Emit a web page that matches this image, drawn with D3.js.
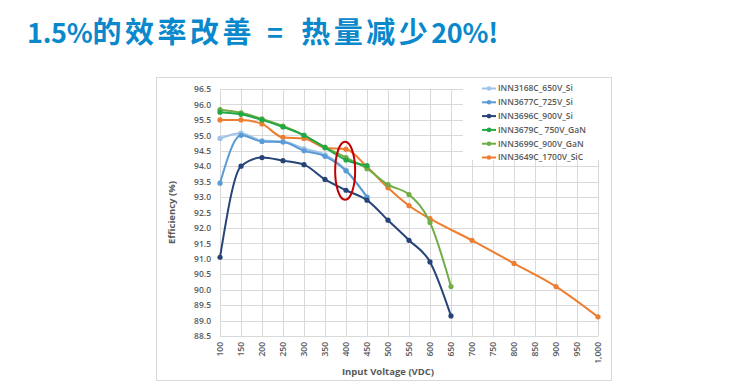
<!DOCTYPE html>
<html>
<head>
<meta charset="utf-8">
<script src="https://cdn.jsdelivr.net/npm/d3@7"></script>
<style>
  body { margin: 0; background: #fff; }
  svg { display: block; }
</style>
</head>
<body>
<svg id="chart" width="740" height="386"></svg>
<script>
// data
var voltages = [100,150,200,250,300,350,400,450,500,550,600,650,700,750,800,850,900,950,1000];
var names = ["INN3168C_650V_Si","INN3677C_725V_Si","INN3696C_900V_Si","INN3679C_ 750V_GaN","INN3699C_900V_GaN","INN3649C_1700V_SiC"];
var colors = ["#9dc3e6","#5b9bd5","#264478","#22a845","#70ad47","#ed7d31"];

var inn3168 = [94.9, 95.07, 94.83, 94.8, 94.57, 94.37, 93.87, 93.0];
var inn3677 = [93.45, 95.0, 94.8, 94.78, 94.5, 94.32, 93.85, 93.0];
var inn3696 = [91.05, 94.0, 94.28, 94.18, 94.05, 93.57, 93.22, 92.9, 92.25, 91.6, 90.9, 89.15];
var inn3679 = [95.75, 95.68, 95.5, 95.27, 95.0, 94.6, 94.2, 94.02];
var inn3699 = [95.83, 95.73, 95.53, 95.3, 95.0, 94.62, 94.28, 93.92, 93.4, 93.08, 92.18, 90.1];
var inn3649 = [95.5, 95.5, 95.37, 94.93, 94.9, 94.6, 94.55, 93.98, 93.3, 92.72, 92.3, null, 91.6, null, 90.85, null, 90.1, null, 89.12];

var yTicks = d3.range(88.5, 96.51, 0.5);

// title pieces: text, font size, letter spacing
var titleParts = [["1.5%", 27, -0.3], ["的效率改善", 29, 3.5], [" = ", 27, 6], ["热量减少", 29, 3.5], ["20%!", 27, -0.3]];

var series = [inn3168, inn3677, inn3696, inn3679, inn3699, inn3649].map(function(vals, i){
    return {
        name: names[i],
        color: colors[i],
        points: vals.map((v, j) => ({v: voltages[j], e: v})).filter(d => d.e != null)
    };
});

var svg = d3.select("#chart");

// title
svg.append("text")
    .attr("x", 27)
    .attr("y", 43)
    .attr("fill", "#0a88cc")
    .style("font", "bold 27px 'Noto Sans CJK SC', 'Noto Sans', sans-serif")
    .style("white-space", "pre")
    .selectAll("tspan")
    .data(titleParts)
    .join("tspan")
    .style("font-size", d => d[1] + "px")
    .style("letter-spacing", d => d[2] + "px")
    .text(d => d[0]);

// chart frame
svg.append("rect")
    .attr("x", 156.5).attr("y", 77.5)
    .attr("width", 455).attr("height", 303)
    .attr("fill", "#fff")
    .attr("stroke", "#d9d9d9");

var x = d3.scaleLinear().domain([100, 1000]).range([220, 598]);
var y = d3.scaleLinear().domain([88.5, 96.5]).range([336, 89]);

// grid
var grid = svg.append("g").attr("stroke", "#d9d9d9").attr("stroke-width", 1);
grid.selectAll("line.h")
    .data(yTicks)
    .join("line")
    .attr("class", "h")
    .attr("x1", x(100)).attr("x2", x(1000))
    .attr("y1", d => Math.round(y(d)) + 0.5)
    .attr("y2", d => Math.round(y(d)) + 0.5);
grid.selectAll("line.v")
    .data(voltages)
    .join("line")
    .attr("class", "v")
    .attr("x1", d => Math.round(x(d)) + 0.5)
    .attr("x2", d => Math.round(x(d)) + 0.5)
    .attr("y1", y(88.5)).attr("y2", y(96.5));

var tickFont = "600 8.5px 'Open Sans', 'DejaVu Sans', sans-serif";

// y axis
var yAxis = g => g
    .attr("transform", `translate(${x(100)},0)`)
    .call(d3.axisLeft(y).tickValues(yTicks).tickFormat(d3.format(".1f")).tickSize(0).tickPadding(9))
    .call(g => g.select(".domain").remove())
    .call(g => g.selectAll("text").attr("fill", "#595959").style("font", tickFont));
svg.append("g").call(yAxis);

// x axis
var xAxis = g => g
    .attr("transform", `translate(0,${y(88.5)})`)
    .call(d3.axisBottom(x).tickValues(voltages).tickFormat(d3.format(",")).tickSize(0))
    .call(g => g.select(".domain").remove())
    .call(g => g.selectAll("text")
        .attr("fill", "#595959")
        .style("font", tickFont)
        .attr("transform", "rotate(-90)")
        .attr("text-anchor", "end")
        .attr("x", -6)
        .attr("y", 0)
        .attr("dy", "0.35em"));
svg.append("g").call(xAxis);

// axis titles
svg.append("text")
    .attr("transform", `translate(175,${(y(88.5) + y(96.5)) / 2}) rotate(-90)`)
    .attr("text-anchor", "middle")
    .attr("fill", "#595959")
    .style("font", "bold 9.5px 'Open Sans', 'DejaVu Sans', sans-serif")
    .text("Efficiency (%)");
svg.append("text")
    .attr("x", 388)
    .attr("y", 375)
    .attr("text-anchor", "middle")
    .attr("fill", "#595959")
    .style("font", "bold 9.5px 'Open Sans', 'DejaVu Sans', sans-serif")
    .text("Input Voltage (VDC)");

// lines
var line = d3.line()
    .curve(d3.curveMonotoneX)
    .x(d => x(d.v))
    .y(d => y(d.e));

var drawOrder = [5, 4, 3, 0, 1, 2];
drawOrder.forEach(function(i){
    var s = series[i];
    var g = svg.append("g");
    g.append("path")
        .datum(s.points)
        .attr("fill", "none")
        .attr("stroke", s.color)
        .attr("stroke-width", 2)
        .attr("d", line);
    g.selectAll("circle")
        .data(s.points)
        .join("circle")
        .attr("cx", d => x(d.v))
        .attr("cy", d => y(d.e))
        .attr("r", 2.6)
        .attr("fill", s.color);
});

// legend (white box over the top-right of the grid)
svg.append("rect")
    .attr("x", 463).attr("y", 80)
    .attr("width", 146).attr("height", 80)
    .attr("fill", "#fff");
var legend = svg.append("g")
    .selectAll("g")
    .data(series)
    .join("g")
    .attr("transform", (d, i) => `translate(482,${88.5 + i * 13.8})`);
legend.append("line")
    .attr("x1", 0).attr("x2", 14)
    .attr("stroke", d => d.color)
    .attr("stroke-width", 2);
legend.append("circle")
    .attr("cx", 7).attr("r", 2.3)
    .attr("fill", d => d.color);
legend.append("text")
    .attr("x", 16)
    .attr("dy", "0.35em")
    .attr("fill", "#595959")
    .style("font", tickFont)
    .text(d => d.name);

// red ellipse highlighting 400 V
svg.append("ellipse")
    .attr("cx", x(398))
    .attr("cy", y(93.85))
    .attr("rx", 10)
    .attr("ry", 29)
    .attr("fill", "none")
    .attr("stroke", "#c00000")
    .attr("stroke-width", 2);
</script>
</body>
</html>
